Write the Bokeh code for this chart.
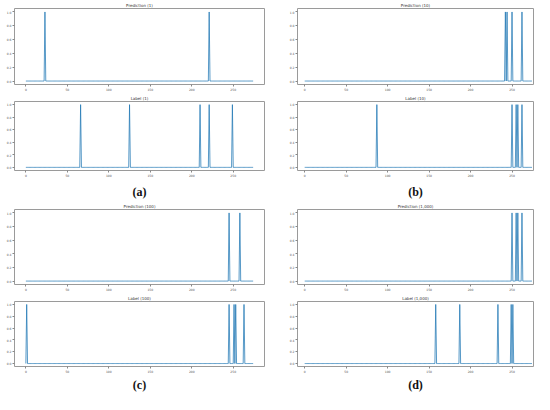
import numpy as np
from bokeh.plotting import figure
from bokeh.layouts import row, column
from bokeh.models import FixedTicker, PrintfTickFormatter
from bokeh.embed import file_html
from bokeh.resources import INLINE

# ---- data -------------------------------------------------------------
N_POINTS = 275
x_ticks = [0, 50, 100, 150, 200, 250]
y_ticks = [0.0, 0.2, 0.4, 0.6, 0.8, 1.0]

# positions where each vector equals 1 (all other entries are 0)
pred_1 = [23, 221]
label_1 = [66, 125, 210, 221, 249]
pred_10 = [242, 244, 250, 262]
label_10 = [87, 250, 255, 257, 262]
pred_100 = [245, 258]
label_100 = [1, 245, 251, 253, 263]
pred_1000 = [250, 255, 257, 262]
label_1000 = [158, 187, 233, 249, 251]

pred_titles = ["Prediction (1)", "Prediction (10)", "Prediction (100)", "Prediction (1,000)"]
label_titles = ["Label (1)", "Label (10)", "Label (100)", "Label (1,000)"]
captions = ["(a)", "(b)", "(c)", "(d)"]

xs = np.arange(N_POINTS)


def series(hot):
    y = np.zeros(N_POINTS)
    y[hot] = 1.0
    return y


def make(title, hot, width, height, xr, mbl, mbr, mbt, mbb, caption=None, cap_standoff=5):
    p = figure(width=width, height=height, x_range=xr, y_range=(-0.05, 1.05),
               output_backend="svg", toolbar_location=None,
               min_border_left=mbl, min_border_right=mbr,
               min_border_top=mbt, min_border_bottom=mbb, title=title)
    p.line(xs, series(hot), line_color="#1f77b4", line_width=1.0, line_alpha=0.75)
    p.title.align = "center"
    p.title.text_font = "DejaVu Sans"
    p.title.text_font_size = "4px"
    p.title.text_font_style = "normal"
    p.title.text_color = "#333333"
    p.title.standoff = 1
    p.xgrid.grid_line_color = None
    p.ygrid.grid_line_color = None
    p.outline_line_color = "#9a9a9a"
    p.outline_line_width = 1
    p.background_fill_color = "white"
    p.border_fill_color = "white"
    for ax in (p.xaxis[0], p.yaxis[0]):
        ax.axis_line_color = None
        ax.major_tick_out = 2
        ax.major_tick_in = 0
        ax.minor_tick_line_color = None
        ax.major_tick_line_color = "#888888"
        ax.major_label_text_font = "DejaVu Sans"
        ax.major_label_text_font_size = "3px"
        ax.major_label_text_color = "#555555"
        ax.major_label_standoff = 1
    p.xaxis.ticker = FixedTicker(ticks=x_ticks)
    p.yaxis.ticker = FixedTicker(ticks=y_ticks)
    p.yaxis.formatter = PrintfTickFormatter(format="%.1f")
    if caption:
        p.xaxis.axis_label = caption
        p.xaxis.axis_label_text_font = "Liberation Serif, serif"
        p.xaxis.axis_label_text_font_size = "12px"
        p.xaxis.axis_label_text_font_style = "bold"
        p.xaxis.axis_label_text_color = "#111111"
        p.xaxis.axis_label_standoff = cap_standoff
    return p


preds = [pred_1, pred_10, pred_100, pred_1000]
labels = [label_1, label_10, label_100, label_1000]

# column geometry: (width, min_border_left, min_border_right, x_range)
cols = [(280, 14, 16, (-13.7, 287.7)), (254, 17, 1, (-8.7, 275.9))]
# row geometry: (height, top, bottom)
pred_rows = [(93, 8, 8), (92, 8, 8)]
label_rows = [(108, 7, 24), (101, 7, 22)]
cap_standoffs = [5, 2]

columns = [[], []]
for i in range(4):
    r, c = divmod(i, 2)
    w, ml, mr, xr = cols[c]
    ph, pt, pb = pred_rows[r]
    lh, lt, lb = label_rows[r]
    columns[c].append(make(pred_titles[i], preds[i], w, ph, xr, ml, mr, pt, pb))
    columns[c].append(make(label_titles[i], labels[i], w, lh, xr, ml, mr, lt, lb,
                           caption=captions[i], cap_standoff=cap_standoffs[r]))

layout = row(column(*columns[0]), column(*columns[1]))

open("out.html", "w").write(file_html(layout, INLINE))
